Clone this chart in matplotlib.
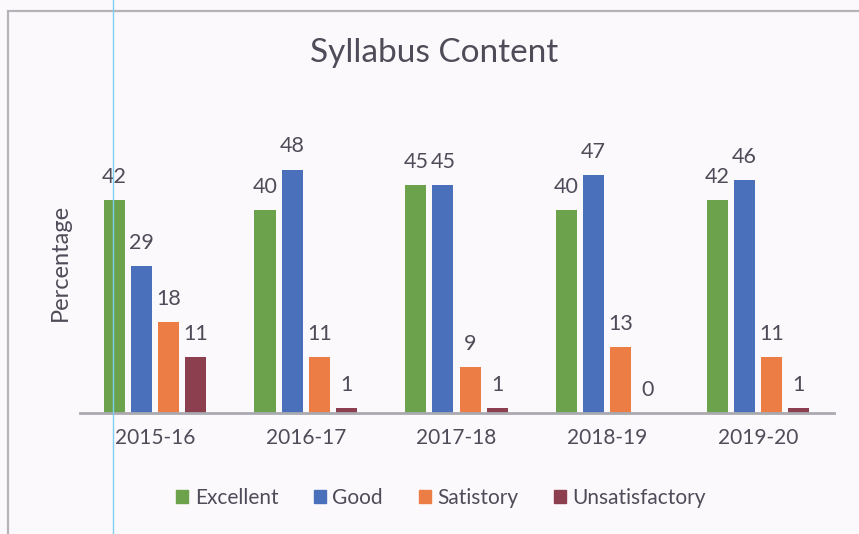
import matplotlib
matplotlib.use("Agg")
import matplotlib.pyplot as plt
import numpy as np
from matplotlib.patches import Rectangle
from matplotlib.lines import Line2D

categories = ["2015-16", "2016-17", "2017-18", "2018-19", "2019-20"]
series_names = ["Excellent", "Good", "Satistory", "Unsatisfactory"]
excellent = [42, 40, 45, 40, 42]
good = [29, 48, 45, 47, 46]
satistory = [18, 11, 9, 13, 11]
unsatisfactory = [11, 1, 1, 0, 1]
colors = ["#6ca24c", "#4a70bb", "#ec7e45", "#8c3f4f"]

plt.rcParams['font.family'] = ['Lato', 'DejaVu Sans']
txt = "#4f4b58"
W, H = 859, 534
fig = plt.figure(figsize=(W/100, H/100), dpi=100)
fig.patch.set_facecolor("#fcf9fc")

# frame
fig.add_artist(Rectangle((8/W, -0.1), 1.2, 1 - 11/H + 0.1, transform=fig.transFigure,
                         fill=False, edgecolor="#b5b3b8", linewidth=1.6))
# scan artefact line
fig.add_artist(Line2D([113/W, 113/W], [0, 1], transform=fig.transFigure, color="#7fd0f0", linewidth=1.0))

ax = fig.add_axes([79.5/W, 1 - 413/H, 754/W, 253.5/H])
ax.set_facecolor("none")
x = np.arange(len(categories))
data = [excellent, good, satistory, unsatisfactory]
for i, (vals, c, name) in enumerate(zip(data, colors, series_names)):
    pos = x + (i - 1.5) * 0.18
    ax.bar(pos, vals, width=0.14, color=c, label=name)
    for p, v in zip(pos, vals):
        ax.text(p, v + 2.6, str(v), ha="center", va="bottom", fontsize=15.5, color=txt, clip_on=False)

ax.set_xlim(-0.5, 4.5)
ax.set_ylim(0, 50)
for s in ["top", "right", "left"]:
    ax.spines[s].set_visible(False)
ax.spines["bottom"].set_color("#a9a9b0")
ax.spines["bottom"].set_linewidth(2)
ax.set_yticks([])
ax.set_xticks(x)
ax.set_xticklabels(categories, fontsize=15, color=txt)
ax.tick_params(axis="x", length=0, pad=11)

fig.text(60/W, 1 - 262/H, "Percentage", rotation=90, ha="center", va="center", fontsize=17, color=txt)
fig.text(434/W, 1 - 53/H, "Syllabus Content", ha="center", va="center", fontsize=24, color=txt)

handles = [Rectangle((0, 0), 1, 1, color=c) for c in colors]
fig.legend(handles, series_names, loc="center", bbox_to_anchor=(441/W, 1 - 498/H), ncol=4,
           frameon=False, fontsize=15, handlelength=0.6, handleheight=0.6, handletextpad=0.3,
           columnspacing=1.7, labelcolor=txt)

fig.savefig("out.png", dpi=100, facecolor=fig.get_facecolor())
